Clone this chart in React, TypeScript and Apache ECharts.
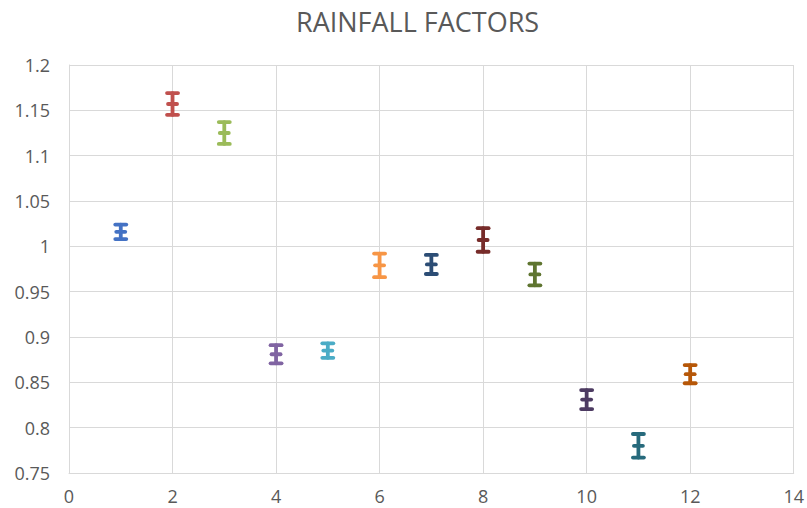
import React, { useEffect, useRef } from "react";
import * as echarts from "echarts";

const months = [1, 2, 3, 4, 5, 6, 7, 8, 9, 10, 11, 12];
const factors = [1.016, 1.157, 1.125, 0.881, 0.885, 0.979, 0.98, 1.007, 0.969, 0.831, 0.78, 0.859];
const errors = [0.008, 0.012, 0.012, 0.01, 0.008, 0.013, 0.0105, 0.013, 0.012, 0.0105, 0.013, 0.01];
const colors = [
  "#4472C4", "#C0504D", "#9BBB59", "#8064A2", "#4BACC6", "#F79646",
  "#2C4D75", "#772C2A", "#5F7530", "#4D3B62", "#276A7C", "#B65708",
];
const yTicks = [0.75, 0.8, 0.85, 0.9, 0.95, 1, 1.05, 1.1, 1.15, 1.2];
const xTicks = [0, 2, 4, 6, 8, 10, 12, 14];

export default function App() {
  const ref = useRef<HTMLDivElement>(null);
  useEffect(() => {
    if (!ref.current) return;
    const chart = echarts.init(ref.current, null, { renderer: "svg" });
    const font = "Open Sans";
    chart.setOption({
      animation: false,
      backgroundColor: "#ffffff",
      title: {
        text: "RAINFALL FACTORS",
        left: 291,
        top: 3,
        textStyle: { color: "#595959", fontSize: 27, fontWeight: "normal", fontFamily: font },
      },
      grid: { left: 69, right: 12, top: 65, bottom: 35 },
      xAxis: {
        type: "value",
        min: xTicks[0],
        max: xTicks[xTicks.length - 1],
        interval: 2,
        axisLine: { show: true, lineStyle: { color: "#d9d9d9" } },
        axisTick: { show: false },
        splitLine: { show: true, lineStyle: { color: "#d9d9d9" } },
        axisLabel: { color: "#595959", fontSize: 18, fontFamily: font, margin: 14 },
      },
      yAxis: {
        type: "value",
        min: yTicks[0],
        max: yTicks[yTicks.length - 1],
        interval: 0.05,
        axisLine: { show: true, lineStyle: { color: "#d9d9d9" } },
        axisTick: { show: false },
        splitLine: { show: true, lineStyle: { color: "#d9d9d9" } },
        axisLabel: {
          color: "#595959",
          fontSize: 18,
          fontFamily: font,
          margin: 19,
          formatter: (v: number) => String(+v.toFixed(2)),
        },
      },
      series: [
        {
          type: "custom",
          data: months.map((m, i) => [m, factors[i], errors[i], i]),
          encode: { x: 0, y: 1 },
          renderItem: (params: any, api: any) => {
            const x = api.value(0);
            const y = api.value(1);
            const e = api.value(2);
            const c = colors[api.value(3)];
            const pTop = api.coord([x, y + e]);
            const pBot = api.coord([x, y - e]);
            const pMid = api.coord([x, y]);
            const hw = 5.5;
            const style = { stroke: c, lineWidth: 3.8, lineCap: "round" };
            return {
              type: "group",
              children: [
                { type: "line", shape: { x1: pTop[0], y1: pTop[1], x2: pBot[0], y2: pBot[1] }, style },
                { type: "line", shape: { x1: pTop[0] - hw, y1: pTop[1], x2: pTop[0] + hw, y2: pTop[1] }, style },
                { type: "line", shape: { x1: pBot[0] - hw, y1: pBot[1], x2: pBot[0] + hw, y2: pBot[1] }, style },
                { type: "line", shape: { x1: pMid[0] - hw + 1, y1: pMid[1], x2: pMid[0] + hw - 1, y2: pMid[1] }, style },
              ],
            };
          },
        },
      ],
    });
    return () => chart.dispose();
  }, []);
  return (
    <div
      ref={ref}
      style={{ position: "fixed", left: 0, top: 0, width: 807, height: 508 }}
    />
  );
}
